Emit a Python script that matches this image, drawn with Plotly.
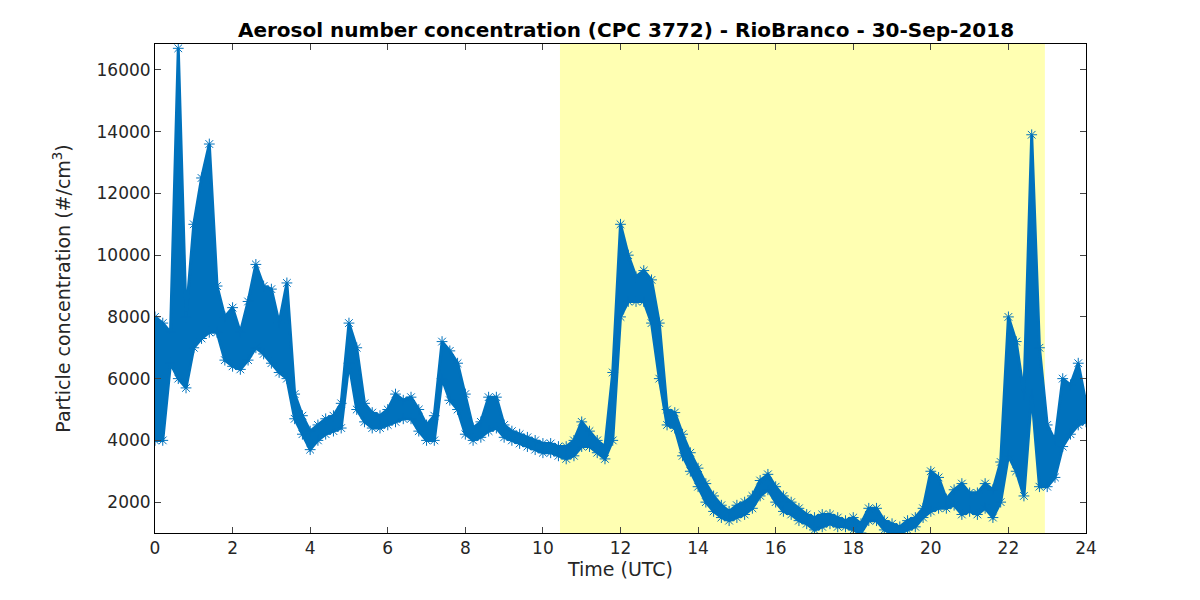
import plotly.graph_objects as go

# time grid (UTC) with lower / upper envelope of the measured concentration
t = [round(i * 0.2, 1) for i in range(121)]
lo = [4000, 4000, 6500, 6000, 5700, 7000, 7300, 7500, 7500, 6600,
      6400, 6300, 6600, 7000, 6800, 6500, 6200, 6000, 4700, 4200,
      3700, 4000, 4200, 4300, 4400, 6500, 5000, 4600, 4400, 4400,
      4500, 4600, 4700, 4700, 4300, 4000, 4000, 6000, 5300, 5000,
      4200, 4000, 4100, 4300, 4400, 4100, 4000, 3900, 3800, 3700,
      3600, 3600, 3500, 3400, 3500, 3800, 3800, 3600, 3400, 4000,
      8000, 8500, 8500, 8500, 7800, 6000, 4500, 4400, 3500, 3000,
      2500, 2000, 1700, 1500, 1400, 1500, 1600, 1800, 2200, 2400,
      2000, 1700, 1600, 1400, 1300, 1100, 1200, 1300, 1200, 1200,
      1100, 1000, 1400, 1400, 1100, 1000, 1000, 1100, 1200, 1500,
      1700, 1800, 1800, 1900, 1600, 1700, 1600, 1800, 1500, 2000,
      3500, 3000, 2200, 5500, 2500, 2500, 2800, 3800, 4200, 4500,
      4600]
hi = [8000, 7800, 7500, 16700, 8000, 11000, 12500, 13600, 9000, 8000,
      8300, 7500, 8500, 9700, 9000, 8900, 7800, 9100, 5500, 4800,
      4300, 4500, 4700, 4800, 5200, 7800, 7000, 5200, 4900, 4800,
      5000, 5500, 5300, 5400, 5000, 4500, 4800, 7200, 6900, 6500,
      5500, 4400, 4600, 5400, 5400, 4500, 4300, 4200, 4100, 4000,
      3900, 3900, 3800, 3800, 4000, 4600, 4300, 4000, 3800, 6200,
      11000, 10000, 9300, 9500, 9200, 7800, 5000, 4900, 4200, 3600,
      3100, 2600, 2200, 1900, 1700, 1900, 2000, 2200, 2700, 2900,
      2500, 2200, 2000, 1800, 1600, 1500, 1600, 1600, 1500, 1400,
      1500, 1300, 1800, 1800, 1400, 1300, 1200, 1400, 1500, 1800,
      3000, 2800, 2100, 2400, 2600, 2300, 2300, 2600, 2400, 3300,
      8000, 7200, 5500, 13900, 7000, 4500, 4000, 6000, 5800, 6500,
      5200]
day_start, day_end = 10.44, 22.94

blue = "#0072BD"
mk = dict(symbol="asterisk-open", size=9, color=blue, line=dict(color=blue, width=1))

fig = go.Figure()
fig.add_trace(go.Scatter(x=t, y=lo, mode="lines+markers", line=dict(color=blue, width=3),
                         marker=mk, showlegend=False))
fig.add_trace(go.Scatter(x=t, y=hi, mode="lines+markers", line=dict(color=blue, width=3),
                         marker=mk, fill="tonexty", fillcolor=blue, showlegend=False))
fig.add_vrect(x0=day_start, x1=day_end, fillcolor="#FFFFB2", opacity=1,
              line_width=0, layer="below")

axis = dict(showline=True, linecolor="black", linewidth=1, mirror="ticks",
            ticks="inside", ticklen=6, showgrid=False, zeroline=False, automargin=False,
            tickformat="d", tickfont=dict(size=17, color="#262626"))
fig.update_layout(
    width=1200, height=600,
    plot_bgcolor="white", paper_bgcolor="white",
    font=dict(family="DejaVu Sans", color="#262626"),
    margin=dict(l=147, r=122, t=36, b=75),
    title=dict(text="<b>Aerosol number concentration (CPC 3772) - RioBranco - 30-Sep-2018</b>",
               x=0.515, xanchor="center", y=0.975, yanchor="top",
               font=dict(size=20, color="black")),
    xaxis=dict(axis, range=[0, 24], tickvals=list(range(0, 25, 2)),
               title=dict(text="Time (UTC)", font=dict(size=19), standoff=4)),
    yaxis=dict(axis, range=[1000, 16840], tickvals=list(range(2000, 16001, 2000)),
               title=dict(text="Particle concentration (#/cm<sup>3</sup>)",
                          font=dict(size=19), standoff=20)),
)

fig.write_html("out.html")
